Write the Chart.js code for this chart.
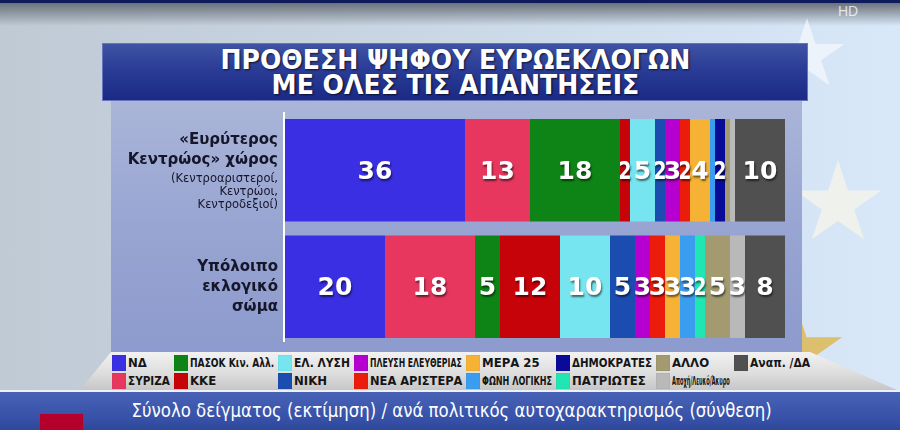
<!DOCTYPE html>
<html>
<head>
<meta charset="utf-8">
<script src="https://cdn.jsdelivr.net/npm/chart.js@4.4.1/dist/chart.umd.min.js"></script>
<style>
  html, body { margin: 0; padding: 0; }
  body {
    width: 900px; height: 430px; overflow: hidden; position: relative;
    background: linear-gradient(90deg, #bfcad5 0%, #c8d4e1 40%, #d3e2f2 80%, #d8e8f8 100%);
    font-family: "DejaVu Sans", sans-serif;
  }
  .topband { position: absolute; left: 0; top: 0; width: 900px; height: 26px;
    background: linear-gradient(180deg, #0d1a5c 0, #0d1a5c 3px, #6a717a 3px, rgba(190,200,212,0) 26px); }
  .star { position: absolute;
    clip-path: polygon(50% 0%, 61% 35%, 98% 35%, 68% 57%, 79% 91%, 50% 70%, 21% 91%, 32% 57%, 2% 35%, 39% 35%); }
  .hd { position: absolute; left: 838px; top: 3px; color: rgba(255,255,255,0.75); font: 14px "Liberation Sans", sans-serif; }
  .title { position: absolute; left: 102px; top: 43px; width: 704px; height: 56px;
    background: linear-gradient(180deg, #3f53a5 0%, #2a3c95 45%, #1b2a85 100%);
    border: 1px solid #6574bd; text-align: center; }
  .title span { display: inline-block; color: #fff; font: bold 26px "Liberation Sans Narrow", "DejaVu Sans Condensed", sans-serif;
    line-height: 25px; margin-top: 4px; text-shadow: 1px 1px 2px rgba(0,0,0,0.7); transform-origin: center; white-space: nowrap; }
  .panel { position: absolute; left: 111px; top: 101px; width: 691px; height: 251px;
    background: linear-gradient(180deg, #aab5d8 0%, #98a5d2 50%, #8c9acd 100%); }
  #chart { position: absolute; left: 111px; top: 101px; }
  .legend { position: absolute; left: 80px; top: 352px; width: 817px; height: 38px;
    background: linear-gradient(180deg, #f2f2f2 0%, #dcdcdc 60%, #c6c6c6 100%);
    clip-path: polygon(31px 0, 730px 0, 817px 38px, 0 38px); }
  .legend-grid { position: absolute; left: 32px; top: 2px; display: grid; grid-auto-flow: column;
    grid-template-rows: 17px 17px; row-gap: 1px;
    grid-template-columns: 62px 104px 76px 112px 90px 100px 78px 80px; }
  .item { display: flex; align-items: center; white-space: nowrap; overflow: visible; }
  .sw { width: 14px; height: 16px; margin-right: 2px; flex: none; box-shadow: inset 0 0 1px rgba(0,0,0,0.3); }
  .lt { display: inline-block; font: bold 13px "Liberation Sans Narrow", "DejaVu Sans Condensed", sans-serif; color: #151515; transform-origin: left center; }
  .caption { position: absolute; left: 0; top: 390px; width: 900px; height: 40px;
    border-top: 2px solid #eef0f6; background: linear-gradient(180deg, #4862b6 0%, #3550a6 70%, #2c4596 100%);
    text-align: center; }
  .caption span { display: inline-block; color: #fff; font: 19px "Liberation Sans Narrow", "DejaVu Sans Condensed", sans-serif;
    margin-top: 7px; margin-left: 4px; transform-origin: center; white-space: nowrap; }
  .redbox { position: absolute; left: 40px; top: 414px; width: 43px; height: 16px; background: #b4002a; }
</style>
</head>
<body>
<div class="topband"></div>
<div class="star" style="left:768px; top:18px; width:78px; height:74px; background:rgba(255,255,255,0.55);"></div>
<div class="star" style="left:793px; top:160px; width:90px; height:87px; background:rgba(255,248,232,0.6);"></div>
<div class="star" style="left:748px; top:305px; width:96px; height:92px; background:#dcc06e;"></div>
<div class="hd">HD</div>
<div class="title"><span id="titleText">ΠΡΟΘΕΣΗ ΨΗΦΟΥ ΕΥΡΩΕΚΛΟΓΩΝ<br>ΜΕ ΟΛΕΣ ΤΙΣ ΑΠΑΝΤΗΣΕΙΣ</span></div>
<div class="panel"></div>
<canvas id="chart" width="691" height="244"></canvas>
<div class="legend"><div class="legend-grid" id="legend"></div></div>
<div class="caption"><span id="captionText">Σύνολο δείγματος (εκτίμηση) / ανά πολιτικός αυτοχαρακτηρισμός (σύνθεση)</span></div>
<div class="redbox"></div>
<script>
// groups of voters (one bar each)
const groups = ['Ευρύτερος Κεντρώος χώρος', 'Υπόλοιπο εκλογικό σώμα']
const groupTitles = [['«Ευρύτερος', 'Κεντρώος» χώρος'], ['Υπόλοιπο', 'εκλογικό', 'σώμα']]
const groupNotes = [['(Κεντροαριστεροί,', 'Κεντρώοι,', 'Κεντροδεξιοί)'], []]

// parties, in stacking order
const parties = ['ΝΔ', 'ΣΥΡΙΖΑ', 'ΠΑΣΟΚ Κιν. Αλλ.', 'ΚΚΕ', 'ΕΛ. ΛΥΣΗ', 'ΝΙΚΗ', 'ΠΛΕΥΣΗ ΕΛΕΥΘΕΡΙΑΣ',
  'ΝΕΑ ΑΡΙΣΤΕΡΑ', 'ΜΕΡΑ 25', 'ΦΩΝΗ ΛΟΓΙΚΗΣ', 'ΔΗΜΟΚΡΑΤΕΣ', 'ΠΑΤΡΙΩΤΕΣ', 'ΑΛΛΟ', 'Αποχή/Λευκό/Άκυρο', 'Αναπ. /ΔΑ']
const partyColors = ['#3a2fe2', '#e7375f', '#0f8416', '#c50309', '#76e5ef', '#1b4db0', '#b600cf',
  '#ec1c0c', '#f5b234', '#3b9df0', '#0a0a98', '#22e6b2', '#a39b6f', '#b9b9b9', '#505050']

// percentages per group
const centreValues = [36, 13, 18, 2, 5, 2, 3, 2, 4, 1, 2, 0, 1, 1, 10]
const restValues = [20, 18, 5, 12, 10, 5, 3, 3, 3, 3, 0, 2, 5, 3, 8]

// scale an element horizontally so it fits a given width
const fitWidth = (el, target, always) => {
  const w = el.offsetWidth
  if (always || w > target) el.style.transform = `scaleX(${target / w})`
}

// numbers inside the segments
const segmentLabels = {
  id: 'segmentLabels',
  afterDatasetsDraw(chart) {
    const ctx = chart.ctx
    ctx.save()
    ctx.font = 'bold 25px "DejaVu Sans"'
    ctx.fillStyle = '#ffffff'
    ctx.textAlign = 'center'
    ctx.textBaseline = 'middle'
    ctx.shadowColor = 'rgba(0,0,0,0.55)'
    ctx.shadowOffsetX = 1
    ctx.shadowOffsetY = 2
    ctx.shadowBlur = 2
    chart.data.datasets.forEach((ds, i) => {
      chart.getDatasetMeta(i).data.forEach((bar, j) => {
        const v = ds.data[j]
        if (v < 2) return
        const w = Math.abs(bar.x - bar.base)
        const text = String(v)
        // narrow segments get a squeezed number, a little wider than the segment
        const k = Math.min(1, (w + 3) / ctx.measureText(text).width)
        ctx.save()
        ctx.translate((bar.x + bar.base) / 2, bar.y + 2)
        ctx.scale(k, 1)
        ctx.fillText(text, 0, 0)
        ctx.restore()
      })
    })
    ctx.restore()
  }
}

// group names left of the bars, plus white axis line
const groupLabels = {
  id: 'groupLabels',
  beforeDatasetsDraw(chart) {
    const { ctx, chartArea, scales } = chart
    ctx.save()
    ctx.strokeStyle = '#ffffff'
    ctx.lineWidth = 2
    ctx.beginPath()
    ctx.moveTo(chartArea.left - 1, chartArea.top)
    ctx.lineTo(chartArea.left - 1, chartArea.bottom - 3)
    ctx.stroke()

    ctx.textAlign = 'right'
    ctx.textBaseline = 'middle'
    ctx.fillStyle = '#16162a'
    const x = chartArea.left - 7
    groups.forEach((g, i) => {
      const titles = groupTitles[i], notes = groupNotes[i]
      const h = titles.length * 20 + notes.length * 13 + (notes.length ? 2 : 0)
      let y = scales.y.getPixelForValue(i) - h / 2 + 10
      ctx.font = 'bold 15px "DejaVu Sans"'
      titles.forEach(t => { ctx.fillText(t, x, y); y += 20 })
      ctx.font = '11.5px "DejaVu Sans"'
      y -= 1
      notes.forEach(t => { ctx.fillText(t, x, y); y += 13 })
    })
    ctx.restore()
  }
}

new Chart(document.getElementById('chart'), {
  type: 'bar',
  data: {
    labels: groups,
    datasets: parties.map((p, i) => ({
      label: p,
      data: [centreValues[i], restValues[i]],
      backgroundColor: partyColors[i],
      borderWidth: 0,
      barPercentage: 0.88,
      categoryPercentage: 1,
    }))
  },
  options: {
    indexAxis: 'y',
    responsive: false,
    animation: false,
    layout: { padding: { left: 174, right: 17, top: 11, bottom: 0 } },
    plugins: { legend: { display: false }, tooltip: { enabled: false } },
    scales: {
      x: { stacked: true, min: 0, max: 100, display: false },
      y: { stacked: true, display: false }
    }
  },
  plugins: [groupLabels, segmentLabels]
})

// legend built from the same arrays
const legend = document.getElementById('legend')
const colWidths = [62, 104, 76, 112, 90, 100, 78, 80]
parties.forEach((p, i) => {
  const item = document.createElement('div')
  item.className = 'item'
  item.innerHTML = `<span class="sw" style="background:${partyColors[i]}"></span><span class="lt">${p}</span>`
  legend.appendChild(item)
  fitWidth(item.querySelector('.lt'), colWidths[Math.floor(i / 2)] - 20)
})

fitWidth(document.getElementById('titleText'), 470, true)
fitWidth(document.getElementById('captionText'), 640, true)
</script>
</body>
</html>
